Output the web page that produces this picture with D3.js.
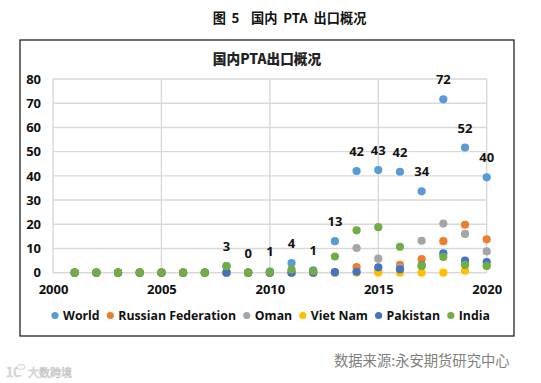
<!DOCTYPE html>
<html>
<head>
<meta charset="utf-8">
<script src="https://cdn.jsdelivr.net/npm/d3@7"></script>
<style>
  html, body { margin: 0; padding: 0; background: #fff; }
  text { font-family: "Noto Sans CJK SC", "Open Sans", sans-serif; }
  .num { font-family: "Open Sans", "Noto Sans CJK SC", sans-serif; font-weight: 700; fill: #111; }
</style>
</head>
<body>
<div id="chart"></div>
<script>
const years = [2001, 2002, 2003, 2004, 2005, 2006, 2007, 2008, 2009, 2010, 2011, 2012, 2013, 2014, 2015, 2016, 2017, 2018, 2019, 2020]

const world = [0, 0, 0, 0, 0, 0, 0, 2.7, 0, 0.5, 4, 1, 13, 42, 42.4, 41.7, 33.6, 71.6, 51.7, 39.4]
const russia = [0, 0, 0, 0, 0, 0, 0, 0, 0, 0, 0, 0, 0, 2.3, 0.5, 3.2, 5.6, 13, 19.8, 13.8]
const oman = [0, 0, 0, 0, 0, 0, 0, 0, 0, 0, 0, 0, 0, 10.2, 5.8, 2, 13.2, 20.3, 16, 8.8]
const vietNam = [0, 0, 0, 0, 0, 0, 0, 0, 0, 0, 0, 0, 0, 0, 0, 0, 0, 0, 0.8, 3]
const pakistan = [0, 0, 0, 0, 0, 0, 0, 0, 0, 0, 0, 0, 0.2, 0.4, 2.2, 1.4, 3, 8, 5, 4.4]
const india = [0, 0, 0, 0, 0, 0, 0, 2.7, 0, 0.3, 1.3, 0.6, 6.7, 17.5, 18.8, 10.7, 2.8, 6.5, 3.2, 2.8]

const seriesNames = ['World', 'Russian Federation', 'Oman', 'Viet Nam', 'Pakistan', 'India']
const seriesValues = [world, russia, oman, vietNam, pakistan, india]
const seriesColors = ['#5b9bd5', '#ed7d31', '#a5a5a5', '#ffc000', '#4472c4', '#70ad47']

// labels shown above the World series
const labelYears = [2008, 2009, 2010, 2011, 2012, 2013, 2014, 2015, 2016, 2017, 2018, 2019, 2020]
const labelTexts = ['3', '0', '1', '4', '1', '13', '42', '43', '42', '34', '72', '52', '40']

const xTicks = [2000, 2005, 2010, 2015, 2020]
const yTicks = [0, 10, 20, 30, 40, 50, 60, 70, 80]

let svg = d3.select('#chart').append('svg')
    .attr('width', 541)
    .attr('height', 383)
    .style('display', 'block')

let xScale = d3.scaleLinear().domain([2000, 2020]).range([53, 486.7])
let yScale = d3.scaleLinear().domain([0, 80]).range([272.7, 79])

// headings
svg.append('text')
  .attr('x', 289.5).attr('y', 22.8)
  .attr('text-anchor', 'middle')
  .attr('font-size', 13.2).attr('font-weight', 700).attr('fill', '#111')
  .style('white-space', 'pre')
  .style('word-spacing', '2.8px')
  .text('图 5  国内 PTA 出口概况')

svg.append('rect')
  .attr('x', 20).attr('y', 40)
  .attr('width', 494).attr('height', 296)
  .attr('fill', '#fff').attr('stroke', '#111').attr('stroke-width', 1.2)

svg.append('text')
  .attr('x', 267).attr('y', 63.8)
  .attr('text-anchor', 'middle')
  .attr('font-size', 13.7).attr('font-weight', 900).attr('fill', '#222')
  .text('国内PTA出口概况')

// grid
svg.append('g').selectAll('line').data(yTicks).join('line')
  .attr('x1', xScale(2000)).attr('x2', xScale(2020))
  .attr('y1', d => yScale(d)).attr('y2', d => yScale(d))
  .attr('stroke', '#d9d9d9').attr('stroke-width', 1.4)

svg.append('g').selectAll('line').data(xTicks).join('line')
  .attr('x1', d => xScale(d)).attr('x2', d => xScale(d))
  .attr('y1', yScale(0)).attr('y2', yScale(80))
  .attr('stroke', '#d9d9d9').attr('stroke-width', 1.4)

// axes
let xAxis = d3.axisBottom(xScale).tickValues(xTicks).tickFormat(d3.format('d')).tickSize(0).tickPadding(12)
let xAxisG = svg.append('g')
    .attr('transform', `translate(0, ${yScale(0)})`)
    .call(xAxis)

let yAxis = d3.axisLeft(yScale).tickValues(yTicks).tickSize(0).tickPadding(12)
let yAxisG = svg.append('g')
    .attr('transform', `translate(${xScale(2000)}, 0)`)
    .call(yAxis)

xAxisG.select('.domain').remove()
yAxisG.select('.domain').remove()
svg.selectAll('.tick text')
  .attr('class', 'num')
  .attr('font-size', 13)
  .style('font-family', '"Open Sans", sans-serif')
  .style('font-weight', 700)
  .attr('fill', '#111')

// points, India ends up on top
seriesValues.forEach((values, i) => {
  svg.append('g').selectAll('circle')
    .data(years.map((y, j) => ({ x: y, y: values[j] })))
    .join('circle')
    .attr('cx', d => xScale(d.x))
    .attr('cy', d => yScale(d.y))
    .attr('r', 4.1)
    .attr('fill', seriesColors[i])
})

// data labels sit just above the World dot
svg.append('g').selectAll('text')
  .data(labelYears.map((y, j) => ({ x: y, y: world[years.indexOf(y)], t: labelTexts[j] })))
  .join('text')
  .attr('class', 'num')
  .attr('font-size', 13)
  .attr('text-anchor', 'middle')
  .attr('x', d => xScale(d.x))
  .attr('y', d => yScale(d.y) - 15)
  .text(d => d.t)

// legend, laid out from the measured text widths
let legendX = 55
let legend = svg.append('g')
seriesNames.forEach((name, i) => {
  legend.append('circle')
    .attr('cx', legendX).attr('cy', 315.5).attr('r', 3.6)
    .attr('fill', seriesColors[i])
  let label = legend.append('text')
    .attr('class', 'num')
    .attr('x', legendX + 8).attr('y', 320)
    .attr('font-size', 12.3)
    .text(name)
  legendX += 8 + label.node().getComputedTextLength() + 10.7
})

// source and watermark
svg.append('text')
  .attr('x', 334).attr('y', 366.2)
  .attr('font-size', 14.3).attr('fill', '#7f7f7f')
  .text('数据来源:永安期货研究中心')

let mark = svg.append('g')
    .attr('fill', '#fff').attr('stroke', '#c4c4c4')
mark.append('text')
  .attr('x', 6).attr('y', 377)
  .attr('font-size', 13).attr('stroke-width', 0.7)
  .text('1C')
mark.append('ellipse')
  .attr('cx', 21).attr('cy', 367).attr('rx', 4).attr('ry', 2.5)
  .attr('stroke-width', 0.8)
mark.append('text')
  .attr('x', 28).attr('y', 376.5)
  .attr('font-size', 11).attr('stroke-width', 0.6)
  .text('大数跨境')
</script>
</body>
</html>
